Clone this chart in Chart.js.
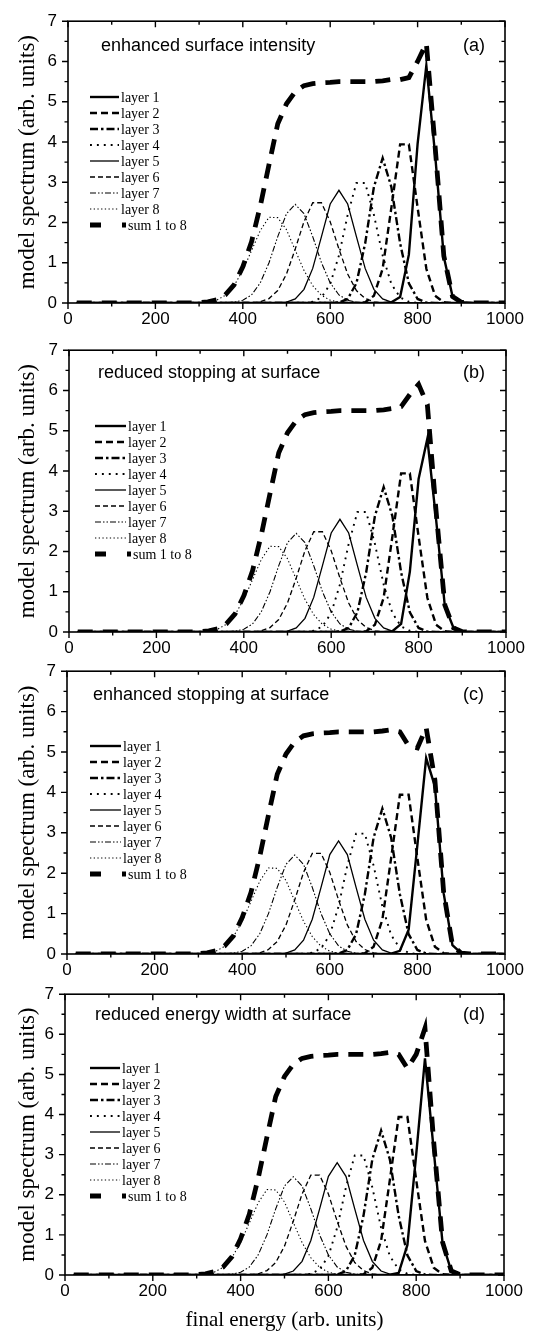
<!DOCTYPE html>
<html>
<head>
<meta charset="utf-8">
<script src="https://cdn.jsdelivr.net/npm/chart.js@4.4.1/dist/chart.umd.min.js"></script>
<style>
  html, body { margin: 0; padding: 0; background: #ffffff; }
  body { width: 535px; height: 1334px; position: relative; overflow: hidden; }
  canvas { position: absolute; left: 0; }
</style>
</head>
<body>
<canvas id="panelA"></canvas>
<canvas id="panelB"></canvas>
<canvas id="panelC"></canvas>
<canvas id="panelD"></canvas>
<script>
// ---- data -------------------------------------------------------------
const energy = [20,40,60,80,100,120,140,160,180,200,220,240,260,280,300,320,340,360,380,400,
  420,440,460,480,500,520,540,560,580,600,620,640,660,680,700,720,740,760,780,800,
  820,840,860,880,900,920,940,960,980,1000];

const xTickValues = [0,200,400,600,800,1000];
const xTickLabels = ['0','200','400','600','800','1000'];
const xMinorValues = [100,300,500,700,900];
const yTickValues = [0,1,2,3,4,5,6,7];
const yTickLabels = ['0','1','2','3','4','5','6','7'];
const yMinorValues = [0.5,1.5,2.5,3.5,4.5,5.5,6.5];

const seriesNames = ['layer 1','layer 2','layer 3','layer 4','layer 5','layer 6','layer 7','layer 8','sum 1 to 8'];
const panelTitles = ['enhanced surface intensity','reduced stopping at surface','enhanced stopping at surface','reduced energy width at surface'];
const panelTags = ['(a)','(b)','(c)','(d)'];
const yAxisTitle = 'model spectrum (arb. units)';
const xAxisTitle = 'final energy (arb. units)';

// deeper layers, identical in all four models
const layer2 = [0,0,0,0,0,0,0,0,0,0,0,0,0,0,0,0,0,0,0,0,0,0,0,0,0,0,0,0,0,0,0,0,0,
  0.02,0.18,0.85,2.37,3.94,3.94,2.37,0.85,0.18,0.02,0,0,0,0,0,0,0];
const layer3 = [0,0,0,0,0,0,0,0,0,0,0,0,0,0,0,0,0,0,0,0,0,0,0,0,0,0,0,0,0,0,
  0.01,0.10,0.49,1.48,2.88,3.60,2.88,1.48,0.49,0.10,0.01,0,0,0,0,0,0,0,0,0];
const layer4 = [0,0,0,0,0,0,0,0,0,0,0,0,0,0,0,0,0,0,0,0,0,0,0,0,0,0,0,
  0.03,0.14,0.47,1.18,2.19,2.98,2.98,2.19,1.18,0.47,0.14,0.03,0,0,0,0,0,0,0,0,0,0,0];
const layer5 = [0,0,0,0,0,0,0,0,0,0,0,0,0,0,0,0,0,0,0,0,0,0,0,0,
  0.02,0.10,0.34,0.86,1.65,2.46,2.80,2.46,1.65,0.86,0.34,0.10,0.02,0,0,0,0,0,0,0,0,0,0,0,0,0];
const layer6 = [0,0,0,0,0,0,0,0,0,0,0,0,0,0,0,0,0,0,0,0,0,
  0.03,0.11,0.31,0.72,1.34,2.02,2.49,2.49,2.02,1.34,0.72,0.31,0.11,0.03,0,0,0,0,0,0,0,0,0,0,0,0,0,0,0];
const layer7 = [0,0,0,0,0,0,0,0,0,0,0,0,0,0,0,0,0,
  0.01,0.02,0.07,0.20,0.50,1.00,1.65,2.22,2.45,2.22,1.65,1.00,0.50,0.20,0.07,0.02,0.01,
  0,0,0,0,0,0,0,0,0,0,0,0,0,0,0,0];
const layer8 = [0,0,0,0,0,0,0,0,0,0,0,0,0,0,
  0.01,0.03,0.07,0.19,0.43,0.81,1.30,1.80,2.13,2.12,1.82,1.31,0.81,0.43,0.19,0.07,0.02,0.01,
  0,0,0,0,0,0,0,0,0,0,0,0,0,0,0,0,0,0];

// surface layer for each model
const layer1A = [0,0,0,0,0,0,0,0,0,0,0,0,0,0,0,0,0,0,0,0,0,0,0,0,0,0,0,0,0,0,0,0,0,0,0,0,
  0.02,0.15,1.20,3.95,5.90,3.70,1.15,0.16,0.02,0,0,0,0,0];
const layer1B = [0,0,0,0,0,0,0,0,0,0,0,0,0,0,0,0,0,0,0,0,0,0,0,0,0,0,0,0,0,0,0,0,0,0,0,0,
  0.02,0.20,1.50,3.80,4.80,2.80,0.65,0.10,0.01,0,0,0,0,0];
const layer1C = [0,0,0,0,0,0,0,0,0,0,0,0,0,0,0,0,0,0,0,0,0,0,0,0,0,0,0,0,0,0,0,0,0,0,0,0,
  0.01,0.08,0.60,2.70,4.85,4.15,1.50,0.22,0.02,0,0,0,0,0];
const layer1D = [0,0,0,0,0,0,0,0,0,0,0,0,0,0,0,0,0,0,0,0,0,0,0,0,0,0,0,0,0,0,0,0,0,0,0,0,
  0.01,0.05,0.75,3.00,5.40,3.10,0.80,0.10,0.01,0,0,0,0,0];

// total spectra
const sumA = [0,0,0,0,0,0,0,0,0,0,0,0,0,0,
  0.01,0.03,0.08,0.20,0.45,0.90,1.52,2.41,3.44,4.45,4.95,5.25,5.40,5.45,5.47,5.48,5.50,5.50,5.50,5.50,5.50,5.52,5.55,
  5.55,5.60,6.00,6.45,3.90,1.17,0.16,0.02,0,0,0,0,0];
const sumB = [0,0,0,0,0,0,0,0,0,0,0,0,0,0,
  0.01,0.03,0.08,0.20,0.45,0.90,1.52,2.41,3.44,4.45,4.95,5.25,5.40,5.45,5.47,5.48,5.50,5.50,5.50,5.50,5.50,5.52,5.55,
  5.60,5.90,6.15,5.65,3.00,0.67,0.10,0.01,0,0,0,0,0];
const sumC = [0,0,0,0,0,0,0,0,0,0,0,0,0,0,
  0.01,0.03,0.08,0.20,0.45,0.90,1.52,2.41,3.44,4.45,4.95,5.25,5.40,5.45,5.47,5.48,5.50,5.50,5.50,5.50,5.50,5.52,5.55,
  5.50,5.15,5.10,5.60,4.30,1.52,0.22,0.02,0,0,0,0,0];
const sumD = [0,0,0,0,0,0,0,0,0,0,0,0,0,0,
  0.01,0.03,0.08,0.20,0.45,0.90,1.52,2.41,3.44,4.45,4.95,5.25,5.40,5.45,5.47,5.48,5.50,5.50,5.50,5.50,5.50,5.52,5.55,
  5.50,5.15,5.50,6.15,3.30,0.82,0.10,0.01,0,0,0,0,0];

// ---- look -------------------------------------------------------------
const lineStyles = [
  { width: 2.4, dash: [] },
  { width: 2.4, dash: [7, 4] },
  { width: 2.4, dash: [8, 3, 2.5, 3] },
  { width: 1.9, dash: [1.9, 5] },
  { width: 1.3, dash: [] },
  { width: 1.3, dash: [5, 3] },
  { width: 1.1, dash: [6, 2, 1.5, 2, 1.5, 2] },
  { width: 1.1, dash: [1.3, 2.4] },
  { width: 4.8, dash: [15, 10] }
];

const SANS = 'Liberation Sans';
const SERIF = 'Liberation Serif';

const panelLayout = [
  { id: 'panelA', canvasTop: 0,   height: 333, plotTop: 14,  plotBottom: 303,  left: 68, right: 505,
    legendX: 90, legendLen: 29, legendRow: 97,   titleX: 101, titleY: 46,   tagX: 463, showXTitle: false },
  { id: 'panelB', canvasTop: 329, height: 333, plotTop: 343, plotBottom: 632,  left: 69, right: 506,
    legendX: 95, legendLen: 31, legendRow: 426,  titleX: 98,  titleY: 373,  tagX: 463, showXTitle: false },
  { id: 'panelC', canvasTop: 650, height: 334, plotTop: 664, plotBottom: 954,  left: 67, right: 505,
    legendX: 90, legendLen: 31, legendRow: 746,  titleX: 93,  titleY: 695,  tagX: 463, showXTitle: false },
  { id: 'panelD', canvasTop: 973, height: 361, plotTop: 987, plotBottom: 1275, left: 65, right: 504,
    legendX: 90, legendLen: 30, legendRow: 1068, titleX: 95,  titleY: 1015, tagX: 463, showXTitle: true }
];
const panelSeries = [
  [layer1A, layer2, layer3, layer4, layer5, layer6, layer7, layer8, sumA],
  [layer1B, layer2, layer3, layer4, layer5, layer6, layer7, layer8, sumB],
  [layer1C, layer2, layer3, layer4, layer5, layer6, layer7, layer8, sumC],
  [layer1D, layer2, layer3, layer4, layer5, layer6, layer7, layer8, sumD]
];

// frame, mirrored tick marks, legend and panel captions
const decorations = {
  id: 'decorations',
  afterDatasetsDraw(chart, args, opts) {
    const { ctx, chartArea: a, scales: { x, y } } = chart;
    const L = opts.layout, off = L.canvasTop;
    ctx.save();
    ctx.strokeStyle = '#000';
    ctx.setLineDash([]);
    ctx.lineWidth = 1.6;
    ctx.strokeRect(a.left, a.top, a.right - a.left, a.bottom - a.top);

    ctx.lineWidth = 1.4;
    ctx.beginPath();
    const major = 6, minor = 3.5;
    xTickValues.forEach(v => {
      const px = x.getPixelForValue(v);
      ctx.moveTo(px, a.bottom); ctx.lineTo(px, a.bottom + major);
      ctx.moveTo(px, a.top); ctx.lineTo(px, a.top + major);
    });
    xMinorValues.forEach(v => {
      const px = x.getPixelForValue(v);
      ctx.moveTo(px, a.bottom); ctx.lineTo(px, a.bottom + minor);
      ctx.moveTo(px, a.top); ctx.lineTo(px, a.top + minor);
    });
    yTickValues.forEach(v => {
      const py = y.getPixelForValue(v);
      ctx.moveTo(a.left, py); ctx.lineTo(a.left - major, py);
      ctx.moveTo(a.right, py); ctx.lineTo(a.right - major, py);
    });
    yMinorValues.forEach(v => {
      const py = y.getPixelForValue(v);
      ctx.moveTo(a.left, py); ctx.lineTo(a.left - minor, py);
      ctx.moveTo(a.right, py); ctx.lineTo(a.right - minor, py);
    });
    ctx.stroke();

    // legend
    ctx.fillStyle = '#000';
    ctx.textBaseline = 'middle';
    ctx.textAlign = 'left';
    ctx.font = '14px "' + SERIF + '"';
    chart.data.datasets.forEach((ds, i) => {
      const rowY = L.legendRow - off + i * 16;
      const isSum = i === seriesNames.length - 1;
      const len = isSum ? 36 : L.legendLen;
      ctx.beginPath();
      ctx.lineWidth = ds.borderWidth;
      ctx.setLineDash(isSum ? [11, 21] : ds.borderDash);
      ctx.lineCap = 'butt';
      ctx.moveTo(L.legendX, rowY);
      ctx.lineTo(L.legendX + len, rowY);
      ctx.stroke();
      ctx.setLineDash([]);
      ctx.fillText(ds.label, L.legendX + len + 2, rowY + 1);
    });

    // caption and panel tag
    ctx.font = '18px "' + SANS + '"';
    ctx.fillText(opts.caption, L.titleX, L.titleY - off);
    ctx.fillText(opts.tag, L.tagX, L.titleY - off);
    ctx.restore();
  }
};

function buildPanel(p) {
  const L = panelLayout[p];
  const cv = document.getElementById(L.id);
  cv.width = 535;
  cv.height = L.height;
  cv.style.top = L.canvasTop + 'px';
  const padBottom = L.showXTitle ? 1 : 0;
  const xAxisHeight = L.height - padBottom - (L.plotBottom - L.canvasTop);

  const datasets = panelSeries[p].map((arr, i) => ({
    label: seriesNames[i],
    data: energy.map((e, k) => ({ x: e, y: arr[k] })),
    borderColor: '#000',
    backgroundColor: '#000',
    borderWidth: lineStyles[i].width,
    borderDash: lineStyles[i].dash,
    fill: false,
    tension: 0,
    pointRadius: 0
  }));

  new Chart(cv, {
    type: 'line',
    data: { datasets },
    options: {
      responsive: false,
      animation: false,
      events: [],
      layout: { padding: { top: L.plotTop - L.canvasTop, right: 535 - L.right, left: 0, bottom: padBottom } },
      plugins: {
        legend: { display: false },
        tooltip: { enabled: false },
        decorations: { layout: L, caption: panelTitles[p], tag: panelTags[p] }
      },
      elements: { line: { borderCapStyle: 'butt', borderJoinStyle: 'miter' } },
      scales: {
        x: {
          type: 'linear', min: 0, max: 1000,
          afterBuildTicks: s => { s.ticks = xTickValues.map(v => ({ value: v })); },
          afterFit: s => { s.height = xAxisHeight; },
          grid: { display: false, drawTicks: false },
          border: { display: false },
          ticks: {
            padding: 6, color: '#000', maxRotation: 0, autoSkip: false,
            font: { family: SANS, size: 17 },
            callback: (v, i) => xTickLabels[i]
          },
          title: {
            display: L.showXTitle, text: xAxisTitle, color: '#000',
            font: { family: SERIF, size: 21 }, padding: { top: 0, bottom: 0 }
          }
        },
        y: {
          min: 0, max: 7,
          afterBuildTicks: s => { s.ticks = yTickValues.map(v => ({ value: v })); },
          afterFit: s => { s.width = L.left; },
          grid: { display: false, drawTicks: false },
          border: { display: false },
          ticks: {
            padding: 11, color: '#000', autoSkip: false,
            font: { family: SANS, size: 17 },
            callback: (v, i) => yTickLabels[i]
          },
          title: {
            display: true, text: yAxisTitle, color: '#000',
            font: { family: SERIF, size: 23 }, padding: { top: 14, bottom: 0 }
          }
        }
      }
    },
    plugins: [decorations]
  });
}

[0, 1, 2, 3].forEach(buildPanel);
</script>
</body>
</html>
